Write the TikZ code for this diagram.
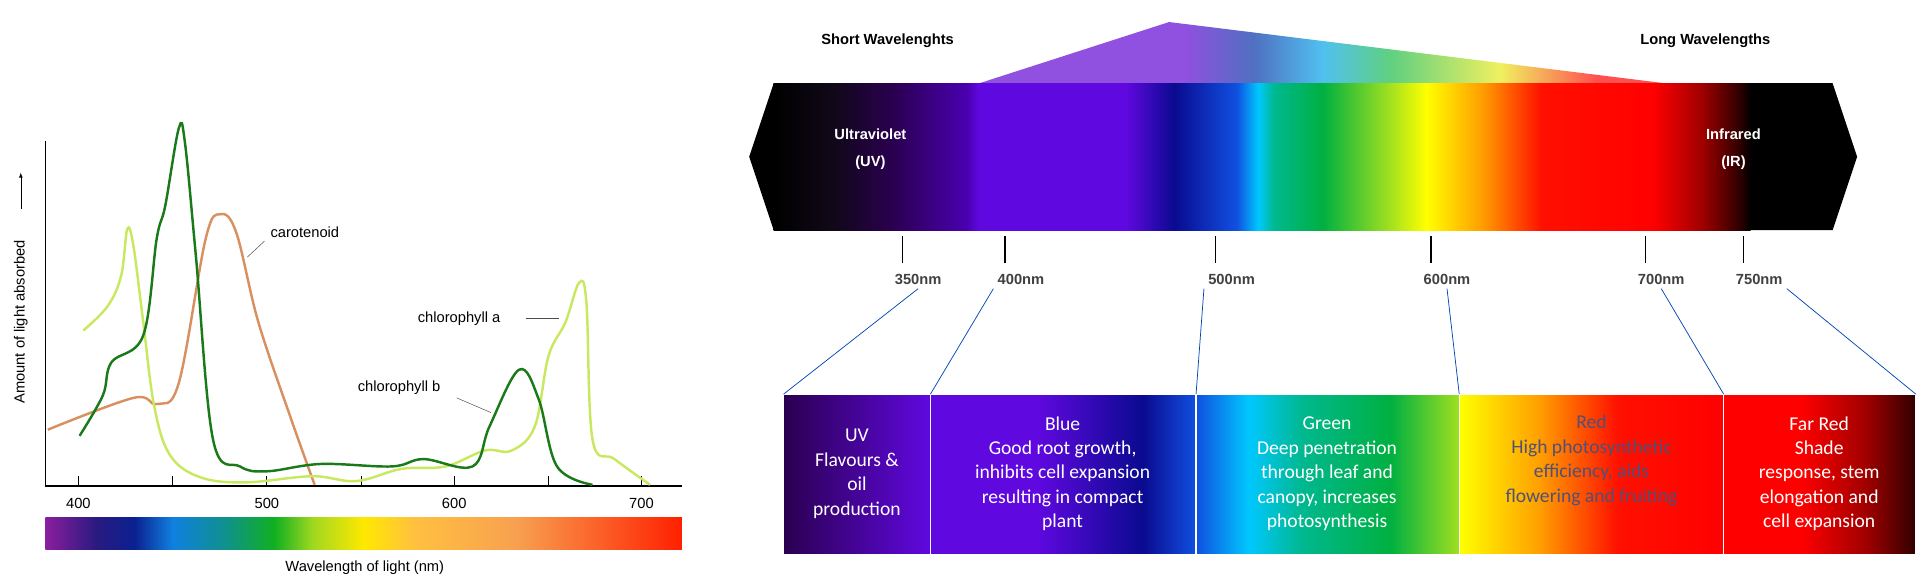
\documentclass[tikz,border=0pt]{standalone}
\usepackage{fontspec}
\setmainfont{Liberation Sans}
\newfontfamily\carlitofont{Carlito}
\begin{document}
\definecolor{c1}{HTML}{2A0050}\definecolor{c2}{HTML}{4A00B0}\definecolor{c3}{HTML}{6008E0}
\definecolor{c4}{HTML}{0A0A90}\definecolor{c5}{HTML}{1050E0}\definecolor{c6}{HTML}{00C8FF}
\definecolor{c7}{HTML}{00B890}\definecolor{c8}{HTML}{00B040}\definecolor{c9}{HTML}{A0E020}
\definecolor{c10}{HTML}{FFA000}\definecolor{c11}{HTML}{FF1000}\definecolor{c12}{HTML}{A00000}
\definecolor{c13}{HTML}{300000}\definecolor{c0}{HTML}{100818}
\definecolor{f1}{HTML}{9050E0}\definecolor{f2}{HTML}{5070C0}\definecolor{f3}{HTML}{50C0F0}
\definecolor{f4}{HTML}{60D080}\definecolor{f5}{HTML}{F0F060}\definecolor{f6}{HTML}{FF5050}
\definecolor{s1}{HTML}{8A1E9E}\definecolor{s2}{HTML}{2A1A80}\definecolor{s3}{HTML}{0A2090}
\definecolor{s4}{HTML}{1080E0}\definecolor{s5}{HTML}{109090}\definecolor{s6}{HTML}{10B020}
\definecolor{s7}{HTML}{A0D820}\definecolor{s8}{HTML}{FFE800}\definecolor{s9}{HTML}{FFC040}
\definecolor{s10}{HTML}{F8A050}\definecolor{s11}{HTML}{FF2000}
\definecolor{ca}{HTML}{C8E860}\definecolor{cb}{HTML}{1A7A1A}\definecolor{cc}{HTML}{D89060}
\definecolor{redtxt}{HTML}{505078}
\pgfdeclarehorizontalshading{band}{100bp}{color(0bp)=(black); color(25bp)=(black); color(28bp)=(c0); color(31.1bp)=(c1); color(34.9bp)=(c2); color(35.5bp)=(c3); color(43bp)=(c3); color(45.5bp)=(c4); color(48.7bp)=(c5); color(49.8bp)=(c6); color(50.6bp)=(c7); color(53.1bp)=(c8); color(56.5bp)=(c9); color(58.4bp)=(yellow); color(61.2bp)=(c10); color(64.3bp)=(c11); color(70bp)=(red); color(72.5bp)=(c12); color(74.4bp)=(c13); color(75bp)=(black); color(100bp)=(black)}
\pgfdeclarehorizontalshading{fan}{100bp}{color(0bp)=(f1); color(25bp)=(f1); color(40bp)=(f1); color(45bp)=(f2); color(50bp)=(f3); color(55bp)=(f4); color(63bp)=(f5); color(70bp)=(f6); color(100bp)=(f6)}
\pgfdeclarehorizontalshading{buv}{100bp}{color(0bp)=(c1); color(25bp)=(c1); color(75bp)=(c3); color(100bp)=(c3)}
\pgfdeclarehorizontalshading{bblue}{100bp}{color(0bp)=(c3); color(25bp)=(c3); color(45bp)=(c3); color(65bp)=(c4); color(75bp)=(c5); color(100bp)=(c5)}
\pgfdeclarehorizontalshading{bgreen}{100bp}{color(0bp)=(c5); color(25bp)=(c5); color(35bp)=(c6); color(45bp)=(c7); color(62bp)=(c8); color(75bp)=(c9); color(100bp)=(c9)}
\pgfdeclarehorizontalshading{bred}{100bp}{color(0bp)=(yellow); color(25bp)=(yellow); color(40bp)=(c10); color(55bp)=(c11); color(75bp)=(red); color(100bp)=(red)}
\pgfdeclarehorizontalshading{bfar}{100bp}{color(0bp)=(red); color(25bp)=(red); color(45bp)=(red); color(62bp)=(c12); color(75bp)=(c13); color(100bp)=(c13)}
\pgfdeclarehorizontalshading{spec}{100bp}{color(0bp)=(s1); color(25bp)=(s1); color(29bp)=(s2); color(32bp)=(s3); color(35bp)=(s4); color(39bp)=(s5); color(43bp)=(s6); color(46bp)=(s7); color(50bp)=(s8); color(54bp)=(s9); color(62bp)=(s10); color(75bp)=(s11); color(100bp)=(s11)}
\begin{tikzpicture}[x=1pt,y=-1pt,
  tick/.style={line width=1pt},
  lead/.style={draw=blue!60!cyan!70!black,line width=0.6pt},
  box/.style={draw=white,line width=1pt},
  btxt/.style={text=white,font=\carlitofont\fontsize{16}{20}\selectfont,align=center},
  lbl/.style={font=\fontsize{12}{14}\selectfont},
  nm/.style={font=\bfseries\fontsize{12}{14}\selectfont,text=black!75},
  curve/.style={line width=2pt,smooth,tension=0.6}]
\useasboundingbox (0,0) rectangle (1922,587);
\begin{scope}[transform canvas={scale=1.2242}]
% ---------- left chart
\draw[line width=1.2pt] (37,115) -- (37,397) -- (557,397);
\foreach \x in {64,141,218,295,371,448,524} \draw[line width=1pt] (\x,389) -- (\x,397);
\node[lbl] (t4) at (64,411) {400};
\node[lbl] (t5) at (218,411) {500};
\node[lbl] (t6) at (371,411) {600};
\node[lbl] (t7) at (524,411) {700};
\shade[shading=spec] (37,423) rectangle (557,449);
\node[lbl] (wl) at (298,464) {Wavelength of light (nm)};
\node[lbl,rotate=90] (am) at (17,263) {Amount of light absorbed};
\draw[-latex] (17,171) -- (17,141);
\draw[curve,cc] plot coordinates {(39,351) (109,325) (128,330) (146,313) (168,195) (180,175) (193,190) (211,263) (237,340) (257,396)};
\draw[curve,ca] plot coordinates {(68,270) (88,250) (99,225) (104,187) (109,201) (117,263) (126,332) (139,372) (164,390) (201,394) (255,389) (291,393) (328,383) (364,381) (396,368) (418,368) (437,348) (448,291) (462,263) (473,231) (479,247) (484,359) (502,375) (531,396)};
\draw[curve,cb] plot coordinates {(65,356) (84,323) (91,296) (117,274) (128,195) (135,168) (146,105) (151,116) (160,209) (174,359) (196,381) (218,385) (262,379) (320,381) (346,375) (386,381) (400,348) (424,302) (440,326) (455,381) (484,396)};
\node[lbl] (car) at (249,190) {carotenoid};
\draw[black!70] (202,210) -- (216,197);
\node[lbl] (cha) at (375,260) {chlorophyll a};
\draw[black!70] (430,260) -- (457,260);
\node[lbl] (chb) at (326,317) {chlorophyll b};
\draw[black!70] (373,325) -- (401,337);
% ---------- right spectrum
\shade[shading=fan] (955,18) -- (1360,68) -- (800,68) -- cycle;
\fill[black] (612,128) -- (632,68) -- (1497,68) -- (1517,128) -- (1497,188) -- (632,188) -- cycle;
\shade[shading=band] (632,68) rectangle (1430,188);
\node[font=\bfseries\fontsize{12}{14}\selectfont] (sw) at (725,33) {Short Wavelenghts};
\node[font=\bfseries\fontsize{12}{14}\selectfont] (lw) at (1393,33) {Long Wavelengths};
\node[font=\bfseries\fontsize{12}{22}\selectfont,text=white,align=center] (uv) at (711,122) {Ultraviolet\\(UV)};
\node[font=\bfseries\fontsize{12}{22}\selectfont,text=white,align=center] (ir) at (1416,122) {Infrared\\(IR)};
\foreach \x/\n/\l in {737/a/350,821/b/400,993/c/500,1169/d/600,1344/e/700,1424/f/750}{
  \draw[tick] (\x,193) -- (\x,215);
  \node[nm] (n\n) at (\x+13,228) {\l nm};}
% boxes
\shade[shading=buv] (640,322) rectangle (760,453);
\shade[shading=bblue] (760,322) rectangle (977,453);
\shade[shading=bgreen] (977,322) rectangle (1192,453);
\shade[shading=bred] (1192,322) rectangle (1408,453);
\shade[shading=bfar] (1408,322) rectangle (1565,453);
\foreach \a/\b in {640/760,760/977,977/1192,1192/1408,1408/1565} \draw[box] (\a,322) rectangle (\b,453);
\coordinate (p1) at (640,322);\coordinate (p2) at (760,322);\coordinate (p3) at (977,322);
\coordinate (p4) at (1192,322);\coordinate (p5) at (1408,322);\coordinate (p6) at (1565,322);
\draw[lead] (na.south) -- (p1);
\draw[lead] (nb.south west) -- (p2);
\draw[lead] (nc.south west) -- (p3);
\draw[lead] (nd.south) -- (p4);
\draw[lead] (ne.south) -- (p5);
\draw[lead] (nf.south east) -- (p6);
\node[btxt] (x1) at (700,387) {UV\\Flavours \&\\oil\\production};
\node[btxt] (x2) at (868,387) {Blue\\Good root growth,\\inhibits cell expansion\\resulting in compact\\plant};
\node[btxt] (x3) at (1084,387) {Green\\Deep penetration\\through leaf and\\canopy, increases\\photosynthesis};
\node[btxt,text=redtxt] (x4) at (1300,376) {Red\\High photosynthetic\\efficiency, aids\\flowering and fruiting};
\node[btxt] (x5) at (1486,387) {Far Red\\Shade\\response, stem\\elongation and\\cell expansion};
\end{scope}
\end{tikzpicture}
\end{document}
